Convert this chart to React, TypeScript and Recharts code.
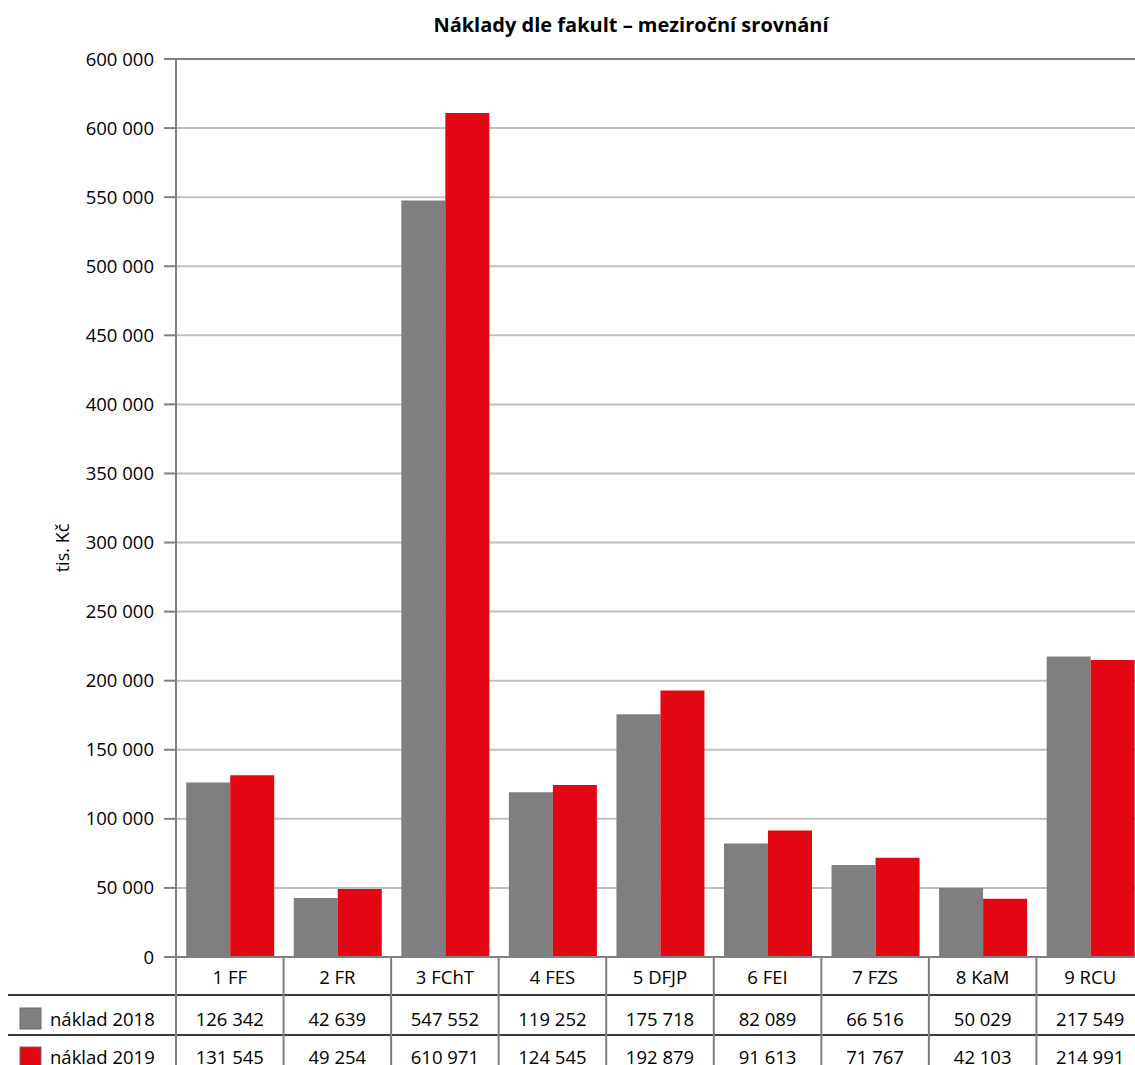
import React from 'react';
import { BarChart, Bar, XAxis, YAxis, CartesianGrid, ReferenceLine } from 'recharts';

const categories = ['1 FF', '2 FR', '3 FChT', '4 FES', '5 DFJP', '6 FEI', '7 FZS', '8 KaM', '9 RCU'];
const naklad2018 = [126342, 42639, 547552, 119252, 175718, 82089, 66516, 50029, 217549];
const naklad2019 = [131545, 49254, 610971, 124545, 192879, 91613, 71767, 42103, 214991];
const seriesNames = ['náklad 2018', 'náklad 2019'];
const yTicks = [0, 50000, 100000, 150000, 200000, 250000, 300000, 350000, 400000, 450000, 500000, 550000, 600000, 650000];
const yTickLabels = ['0', '50 000', '100 000', '150 000', '200 000', '250 000', '300 000', '350 000', '400 000', '450 000', '500 000', '550 000', '600 000', '600 000'];

const GRAY = '#7f7f7f';
const RED = '#e30613';
const FONT = '"Open Sans", "Noto Sans", sans-serif';

const CHART_W = 1144;
const CHART_H = 1077;
const PLOT_LEFT = 176;
const PLOT_TOP = 59;
const PLOT_BOTTOM = 957;
const BAND = (CHART_W - PLOT_LEFT) / categories.length;

const data = categories.map((name, i) => ({
  name,
  y2018: naklad2018[i],
  y2019: naklad2019[i],
}));

const fmt = (v: number) => v.toLocaleString('en-US').replace(/,/g, ' ');

function TableTick(props: any) {
  const { x, payload } = props;
  const i = categories.indexOf(payload.value);
  const row1 = 1018;
  const row2 = 1056;
  const txt = { fontFamily: FONT, fontSize: 18.5, fill: '#000', dominantBaseline: 'central' as const };
  return (
    <g>
      {i === 0 && (
        <g>
          <line x1={8} x2={CHART_W} y1={995} y2={995} stroke="#3a3a3a" strokeWidth={2} />
          <line x1={8} x2={CHART_W} y1={1035} y2={1035} stroke="#3a3a3a" strokeWidth={2} />
          <line x1={PLOT_LEFT} x2={PLOT_LEFT} y1={PLOT_BOTTOM} y2={CHART_H} stroke="#808080" strokeWidth={2} />
          <rect x={20} y={1008} width={21} height={21} fill={GRAY} stroke="#6a6a6a" strokeWidth={1} />
          <text x={50} y={row1} {...txt}>{seriesNames[0]}</text>
          <rect x={20} y={1047} width={21} height={21} fill={RED} stroke="#6a6a6a" strokeWidth={1} />
          <text x={50} y={row2} {...txt}>{seriesNames[1]}</text>
        </g>
      )}
      <line x1={x + BAND / 2} x2={x + BAND / 2} y1={PLOT_BOTTOM} y2={CHART_H} stroke="#808080" strokeWidth={2} />
      <text x={x} y={976} textAnchor="middle" {...txt}>{payload.value}</text>
      <text x={x} y={row1} textAnchor="middle" {...txt}>{fmt(naklad2018[i])}</text>
      <text x={x} y={row2} textAnchor="middle" {...txt}>{fmt(naklad2019[i])}</text>
    </g>
  );
}

export default function App() {
  return (
    <div
      style={{
        position: 'absolute',
        left: 0,
        top: 0,
        width: 1135,
        height: 1065,
        overflow: 'hidden',
        background: '#fff',
        fontFamily: FONT,
      }}
    >
      <div
        style={{
          position: 'absolute',
          top: 11,
          left: 0,
          width: 1262,
          textAlign: 'center',
          fontWeight: 700,
          fontSize: 20,
          color: '#000',
        }}
      >
        Náklady dle fakult – meziroční srovnání
      </div>
      <BarChart
        width={CHART_W}
        height={CHART_H}
        data={data}
        margin={{ top: PLOT_TOP, right: 0, bottom: 0, left: 0 }}
        barCategoryGap="9.5%"
        barGap={0}
      >
        <CartesianGrid vertical={false} stroke="#c0c0c0" strokeWidth={2} />
        <ReferenceLine y={650000} stroke="#808080" strokeWidth={2} />
        <XAxis
          dataKey="name"
          height={CHART_H - PLOT_BOTTOM}
          axisLine={{ stroke: '#808080', strokeWidth: 2 }}
          tickLine={false}
          tick={<TableTick />}
          interval={0}
        />
        <YAxis
          width={PLOT_LEFT}
          domain={[0, 650000]}
          ticks={yTicks}
          interval={0}
          tickFormatter={(v: number) => yTickLabels[yTicks.indexOf(v)]}
          axisLine={{ stroke: '#808080', strokeWidth: 2 }}
          tickLine={{ stroke: '#808080', strokeWidth: 2 }}
          tickSize={12}
          tickMargin={10}
          tick={{ fontFamily: FONT, fontSize: 18.5, fill: '#000' }}
          label={{
            content: () => (
              <text
                x={62}
                y={548}
                transform="rotate(-90 62 548)"
                textAnchor="middle"
                dominantBaseline="central"
                fontFamily={FONT}
                fontSize={18}
                fill="#000"
              >
                tis. Kč
              </text>
            ),
          }}
        />
        <Bar dataKey="y2018" name={seriesNames[0]} fill={GRAY} isAnimationActive={false} />
        <Bar dataKey="y2019" name={seriesNames[1]} fill={RED} isAnimationActive={false} />
      </BarChart>
    </div>
  );
}
